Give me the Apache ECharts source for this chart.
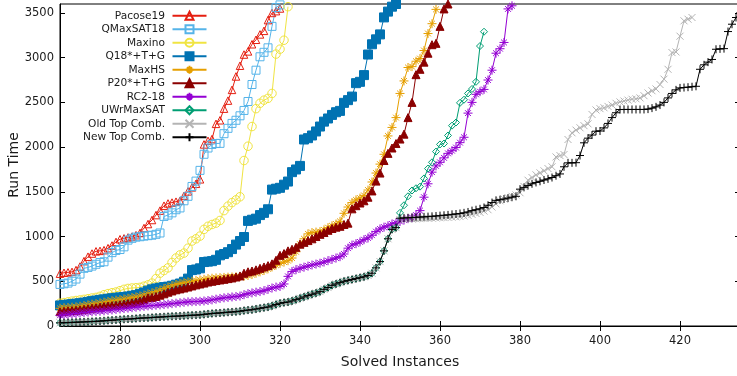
<!DOCTYPE html>
<html>
<head>
<meta charset="utf-8">
<title>Run Time vs Solved Instances</title>
<script src="https://cdn.jsdelivr.net/npm/echarts@6/dist/echarts.min.js"></script>
<style>
  html, body { margin: 0; padding: 0; background: #ffffff; }
  #chart { width: 737px; height: 376px; }
</style>
</head>
<body>
<div id="chart"></div>
<script>
// Every series lists the run time of its k-th solved instance, starting at instance 265.
const FIRST_INSTANCE = 265;

const pacose19 = [
  585, 595, 600, 605, 625, 665, 725, 775, 810, 835,
  840, 848, 870, 900, 940, 970, 980, 990, 1000, 1015,
  1040, 1095, 1140, 1185, 1240, 1290, 1345, 1370, 1380, 1390,
  1400, 1455, 1505, 1550, 1590, 1640, 2030, 2070, 2090, 2260,
  2300, 2430, 2520, 2640, 2790, 2910, 3035, 3070, 3150, 3200,
  3260, 3300, 3420, 3500, 3520, 3550
];

const qmaxsat18 = [
  465, 472, 480, 500, 525, 580, 645, 655, 670, 690,
  710, 718, 770, 820, 845, 855, 885, 960, 980, 994,
  998, 1005, 1010, 1015, 1025, 1040, 1225, 1240, 1265, 1300,
  1320, 1400, 1450, 1560, 1620, 1740, 1920, 1990, 2030, 2040,
  2042, 2150, 2210, 2265, 2300, 2350, 2410, 2510, 2700, 2860,
  3010, 3060, 3110, 3350, 3560, 3590
];

const maxino = [
  255, 262, 270, 278, 285, 291, 298, 305, 313, 320,
  332, 350, 362, 372, 380, 395, 410, 420, 425, 428,
  432, 445, 460, 480, 530, 590, 620, 650, 710, 760,
  795, 815, 870, 950, 975, 1005, 1080, 1115, 1135, 1150,
  1180, 1290, 1340, 1380, 1410, 1445, 1850, 2010, 2230, 2430,
  2490, 2525, 2545, 2600, 3040, 3095, 3195, 3570
];

const q18tg = [
  230, 235, 240, 245, 250, 255, 262, 270, 278, 285,
  292, 298, 305, 310, 315, 320, 325, 330, 338, 345,
  360, 375, 395, 410, 420, 428, 435, 440, 450, 462,
  475, 495, 530, 625, 632, 645, 715, 720, 725, 740,
  790, 805, 825, 860, 910, 950, 995, 1175, 1188, 1200,
  1240, 1265, 1305, 1525, 1535, 1545, 1580, 1615, 1720, 1750,
  1790, 2085, 2100, 2130, 2175, 2230, 2285, 2320, 2360, 2390,
  2405, 2495, 2525, 2565, 2715, 2730, 2805, 3035, 3150, 3205,
  3260, 3450, 3515, 3570, 3600
];

const maxhs = [
  198, 203, 207, 210, 214, 220, 228, 236, 244, 250,
  258, 266, 274, 282, 288, 295, 302, 310, 318, 325,
  335, 345, 360, 370, 385, 400, 418, 435, 450, 465,
  475, 485, 493, 500, 508, 515, 522, 530, 534, 537,
  540, 543, 546, 548, 550, 552, 556, 565, 575, 590,
  605, 620, 640, 660, 680, 700, 715, 730, 760, 830,
  915, 975, 1030, 1045, 1050, 1055, 1075, 1100, 1120, 1140,
  1170, 1260, 1330, 1380, 1410, 1430, 1460, 1520, 1610, 1710,
  1810, 1920, 2125, 2220, 2330, 2600, 2740, 2890, 2900, 2960,
  2990, 3080, 3270, 3380, 3540
];

const p20tg = [
  160, 165, 170, 173, 177, 182, 188, 194, 200, 205,
  212, 218, 224, 228, 232, 238, 245, 252, 260, 268,
  280, 295, 315, 320, 330, 345, 360, 378, 392, 405,
  415, 425, 436, 448, 460, 470, 480, 492, 500, 508,
  515, 522, 530, 537, 548, 560, 590, 606, 615, 628,
  645, 660, 675, 695, 735, 790, 810, 840, 858, 880,
  915, 935, 955, 975, 1000, 1025, 1045, 1070, 1090, 1105,
  1115, 1135, 1150, 1310, 1345, 1375, 1400, 1440, 1510, 1620,
  1710, 1850, 1930, 1990, 2040, 2090, 2145, 2330, 2500, 2810,
  2870, 2950, 3050, 3145, 3160, 3350, 3545, 3600
];

const rc218 = [
  120, 125, 130, 135, 140, 145, 150, 155, 160, 163,
  166, 170, 175, 180, 185, 190, 195, 200, 205, 210,
  215, 220, 225, 228, 232, 236, 240, 245, 250, 255,
  260, 265, 270, 272, 274, 276, 280, 285, 292, 300,
  308, 315, 320, 325, 330, 335, 350, 362, 370, 378,
  385, 395, 410, 425, 435, 442, 470, 555, 610, 630,
  645, 658, 670, 682, 692, 702, 715, 730, 745, 760,
  775, 805, 870, 905, 920, 940, 965, 985, 1015, 1055,
  1085, 1105, 1120, 1140, 1155, 1168, 1185, 1200, 1210, 1240,
  1290, 1440, 1590, 1720, 1790, 1830, 1880, 1930, 1960, 1995,
  2050, 2110, 2380, 2500, 2590, 2620, 2645, 2750, 2860, 3050,
  3100, 3170, 3545, 3580
];

// Instances 265-349: the two portfolio combinations and UWrMaxSAT coincide here.
const sharedLowRange = [
  35, 37, 38, 40, 42, 44, 46, 48, 50, 52,
  55, 58, 62, 65, 68, 72, 75, 78, 80, 84,
  88, 90, 92, 95, 98, 100, 103, 106, 108, 110,
  112, 115, 118, 120, 122, 125, 130, 135, 140, 143,
  146, 150, 154, 157, 160, 165, 172, 178, 182, 190,
  198, 205, 212, 225, 240, 254, 262, 268, 280, 295,
  310, 325, 340, 355, 368, 384, 410, 430, 455, 470,
  485, 500, 510, 520, 530, 540, 550, 565, 590, 650,
  720, 840, 975, 1080, 1100
];

// From instance 350 onwards.
const uwrTail = [
  1265, 1350, 1450, 1515, 1540, 1558, 1650, 1760, 1830, 1950,
  2030, 2040, 2130, 2240, 2275, 2495, 2530, 2600, 2650, 2730,
  3130, 3290
];

const oldTopTail = [
  1190, 1192, 1194, 1196, 1198, 1200, 1202, 1204, 1206, 1208,
  1210, 1212, 1214, 1217, 1220, 1224, 1230, 1238, 1248, 1258,
  1270, 1285, 1300, 1330, 1365, 1400, 1420, 1435, 1450, 1465,
  1490, 1560, 1630, 1660, 1690, 1712, 1735, 1760, 1780, 1890,
  1905, 1917, 2085, 2160, 2190, 2216, 2240, 2260, 2365, 2415,
  2430, 2440, 2455, 2470, 2490, 2505, 2515, 2525, 2535, 2540,
  2550, 2575, 2605, 2630, 2650, 2700, 2760, 2870, 3057, 3064,
  3240, 3412, 3430, 3449
];

const newTopTail = [
  1205, 1208, 1210, 1212, 1215, 1218, 1220, 1223, 1226, 1230,
  1234, 1238, 1242, 1248, 1252, 1258, 1265, 1275, 1290, 1300,
  1310, 1325, 1350, 1380, 1405, 1412, 1420, 1430, 1440, 1450,
  1530, 1550, 1570, 1590, 1605, 1618, 1632, 1645, 1660, 1680,
  1700, 1780, 1824, 1824, 1826, 1906, 2048, 2100, 2135, 2178,
  2180, 2215, 2265, 2330, 2384, 2420, 2421, 2421, 2421, 2421,
  2421, 2421, 2425, 2436, 2450, 2470, 2500, 2550, 2600, 2640,
  2662, 2666, 2670, 2675, 2680, 2870, 2920, 2950, 2980, 3094,
  3098, 3101, 3292, 3374, 3449, 3500
];

const uwrmaxsat = sharedLowRange.concat(uwrTail);
const oldTopComb = sharedLowRange.concat(oldTopTail);
const newTopComb = sharedLowRange.concat(newTopTail);

const xTickValues = [280, 300, 320, 340, 360, 380, 400, 420];
const yTickValues = [0, 500, 1000, 1500, 2000, 2500, 3000, 3500];

const FONT = '"DejaVu Sans", "Liberation Sans", sans-serif';
const TEXT_COLOR = '#1a1a1a';

// Point markers in the style of gnuplot's *, + and x glyphs.
const ASTERISK = 'path://M0,5L10,5M5,0L5,10M1.8,1.8L8.2,8.2M8.2,1.8L1.8,8.2';
const PLUS = 'path://M0,5L10,5M5,0L5,10';
const CROSS = 'path://M0,0L10,10M10,0L0,10';

function toPoints(values) {
  return values.map((v, i) => [FIRST_INSTANCE + i, v]);
}

function solverSeries(name, values, color, symbol, size, filled) {
  return {
    name: name,
    type: 'line',
    data: toPoints(values),
    symbol: symbol,
    symbolSize: size,
    symbolKeepAspect: true,
    showSymbol: true,
    clip: true,
    silent: true,
    lineStyle: { color: color, width: 1 },
    itemStyle: {
      color: filled ? color : 'rgba(255,255,255,0)',
      borderColor: color,
      borderWidth: 1
    },
    emphasis: { disabled: true }
  };
}

const series = [
  solverSeries('Pacose19', pacose19, '#e51e10', 'triangle', 7.5, false),
  solverSeries('QMaxSAT18', qmaxsat18, '#56b4e9', 'rect', 8, false),
  solverSeries('Maxino', maxino, '#f0e442', 'circle', 8.5, false),
  solverSeries('Q18*+T+G', q18tg, '#0072b2', 'rect', 9, true),
  solverSeries('MaxHS', maxhs, '#e69f00', ASTERISK, 9, true),
  solverSeries('P20*+T+G', p20tg, '#8b0000', 'triangle', 8, true),
  solverSeries('RC2-18', rc218, '#9400d3', ASTERISK, 9, true),
  solverSeries('UWrMaxSAT', uwrmaxsat, '#009e73', 'diamond', 7, false),
  solverSeries('Old Top Comb.', oldTopComb, '#b4b4b4', CROSS, 7, true),
  solverSeries('New Top Comb.', newTopComb, '#000000', PLUS, 8, true)
];

const chart = echarts.init(document.getElementById('chart'), null, { renderer: 'canvas' });

const tickStyle = { color: '#000000', width: 1 };
const plainNumber = v => String(v);

chart.setOption({
  animation: false,
  backgroundColor: '#ffffff',
  grid: {
    left: 60, right: -3, top: 4, bottom: 50,
    outerBoundsMode: 'none',
    containLabel: false,
    show: true, borderColor: '#000000', borderWidth: 1
  },
  legend: {
    orient: 'vertical',
    align: 'right',
    right: 529.5,
    top: 9,
    padding: 0,
    itemWidth: 34,
    itemHeight: 10,
    itemGap: 0,
    selectedMode: false,
    textStyle: {
      fontFamily: FONT, fontSize: 10.6, color: TEXT_COLOR,
      lineHeight: 13.5, padding: [0, 2.5, 0, 0]
    },
    data: series.map(s => s.name)
  },
  xAxis: [
    {
      type: 'value', min: 265, max: 435, position: 'bottom',
      name: 'Solved Instances', nameLocation: 'middle', nameGap: 29,
      nameMoveOverlap: false,
      nameTextStyle: { fontFamily: FONT, fontSize: 14, color: TEXT_COLOR },
      axisLine: { show: true, onZero: false, lineStyle: tickStyle },
      axisTick: { show: true, inside: true, length: 5, customValues: xTickValues, lineStyle: tickStyle },
      axisLabel: { customValues: xTickValues, formatter: plainNumber, margin: 9, fontFamily: FONT, fontSize: 11.5, color: TEXT_COLOR },
      splitLine: { show: false }
    },
    {
      type: 'value', min: 265, max: 435, position: 'top',
      axisLine: { show: false },
      axisTick: { show: true, inside: true, length: 5, customValues: xTickValues, lineStyle: tickStyle },
      axisLabel: { show: false },
      splitLine: { show: false }
    }
  ],
  yAxis: [
    {
      type: 'value', min: 0, max: 3600, position: 'left',
      name: 'Run Time', nameLocation: 'middle', nameGap: 39,
      nameMoveOverlap: false,
      nameTextStyle: { fontFamily: FONT, fontSize: 14, color: TEXT_COLOR },
      axisLine: { show: true, onZero: false, lineStyle: tickStyle },
      axisTick: { show: true, inside: true, length: 5, customValues: yTickValues, lineStyle: tickStyle },
      axisLabel: { customValues: yTickValues, formatter: plainNumber, margin: 6, fontFamily: FONT, fontSize: 11.5, color: TEXT_COLOR },
      splitLine: { show: false }
    },
    {
      type: 'value', min: 0, max: 3600, position: 'right',
      axisLine: { show: false },
      axisTick: { show: true, inside: true, length: 5, customValues: yTickValues, lineStyle: tickStyle },
      axisLabel: { show: false },
      splitLine: { show: false }
    }
  ],
  series: series
});
</script>
</body>
</html>
